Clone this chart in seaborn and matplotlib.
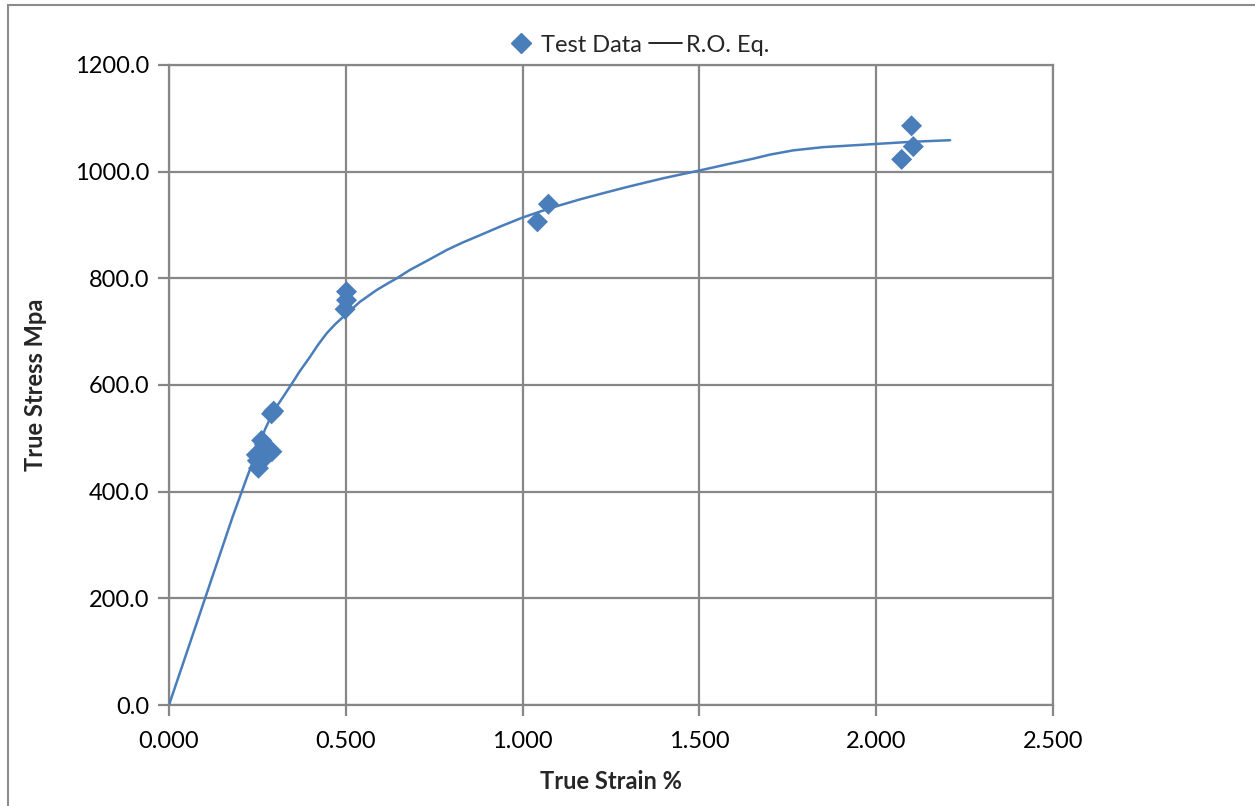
import matplotlib
matplotlib.use("Agg")
import matplotlib.pyplot as plt
import seaborn as sns
import pandas as pd
from matplotlib.lines import Line2D
from matplotlib.patches import Rectangle

# Test data (true strain %, true stress MPa)
test_strain = [0.247, 0.253, 0.250, 0.262, 0.268, 0.270, 0.280, 0.291,
               0.290, 0.296,
               0.502, 0.502, 0.498,
               1.042, 1.073,
               2.072, 2.105, 2.100]
test_stress = [469, 444, 458, 496, 462, 488, 480, 475,
               546, 551,
               775, 759, 742,
               906, 939,
               1023, 1047, 1086]

# Ramberg-Osgood equation curve
ro_strain = [0.0, 0.10, 0.18, 0.22, 0.25, 0.271, 0.295, 0.32, 0.347, 0.37,
             0.399, 0.42, 0.446, 0.47, 0.498, 0.54, 0.587, 0.62, 0.644,
             0.682, 0.73, 0.785, 0.83, 0.880, 0.94, 1.000, 1.08, 1.162,
             1.23, 1.300, 1.40, 1.499, 1.58, 1.650, 1.70, 1.766, 1.85,
             2.000, 2.10, 2.209]
ro_stress = [0, 196, 353, 426, 478, 516, 550, 575, 602, 626,
             653, 674, 697, 714, 731, 756, 778, 791, 800,
             816, 833, 853, 867, 881, 898, 914, 932, 948,
             960, 972, 988, 1002, 1014, 1024, 1032, 1040, 1046,
             1052, 1056, 1059]

x_ticks = [0.0, 0.5, 1.0, 1.5, 2.0, 2.5]
y_ticks = [0, 200, 400, 600, 800, 1000, 1200]

sns.set_theme(style="white")
plt.rcParams['font.family'] = ['Lato', 'DejaVu Sans']

blue = "#4A7EBB"
grid_c = "#878787"
fs = 17

fig = plt.figure(figsize=(12.55, 8.06), dpi=100)
ax = fig.add_axes([169/1255, 1-705/806, (1053-169)/1255, (705-65)/806])

df_test = pd.DataFrame({"strain": test_strain, "stress": test_stress})
df_ro = pd.DataFrame({"strain": ro_strain, "stress": ro_stress})

sns.lineplot(data=df_ro, x="strain", y="stress", ax=ax, color=blue,
             lw=1.8, sort=False, estimator=None, zorder=3)
for l in ax.lines:
    l.set_solid_joinstyle("round")
sns.scatterplot(data=df_test, x="strain", y="stress", ax=ax, color=blue,
                marker="D", s=115, edgecolor="none", zorder=4)

ax.set_xlim(0, 2.5)
ax.set_ylim(0, 1200)
ax.set_xticks(x_ticks)
ax.set_yticks(y_ticks)
ax.set_xticklabels([f"{v:.3f}" for v in x_ticks])
ax.set_yticklabels([f"{v:.1f}" for v in y_ticks])
ax.grid(True, color=grid_c, lw=1.6)
ax.set_axisbelow(True)
for s in ax.spines.values():
    s.set_color(grid_c)
    s.set_linewidth(1.6)
ax.tick_params(axis="both", which="major", length=8, width=1.6, color=grid_c,
               labelsize=fs, labelcolor="black", direction="out")
ax.tick_params(axis="x", pad=11)
ax.tick_params(axis="y", pad=6)
ax.xaxis.set_ticks_position("bottom")
ax.yaxis.set_ticks_position("left")

ax.set_xlabel("True Strain %", fontsize=fs, fontweight="bold", labelpad=13)
ax.set_ylabel("True Stress Mpa", fontsize=fs, fontweight="bold", labelpad=20)

handles = [Line2D([], [], color=blue, marker="D", ls="none", markersize=10),
           Line2D([], [], color="black", lw=1.2)]
fig.legend(handles, ["Test Data", "R.O. Eq."], loc="center",
           bbox_to_anchor=(637/1255, 1-45/806), ncol=2, frameon=False,
           fontsize=fs, handlelength=1.4, handletextpad=0.15,
           columnspacing=0.3)

fig.patches.append(Rectangle((8/1255, -0.1), 1.2, 1-5/806+0.1,
                             transform=fig.transFigure, fill=False,
                             edgecolor="#8c8c8c", lw=1.5))

fig.savefig("out.png", dpi=100)
